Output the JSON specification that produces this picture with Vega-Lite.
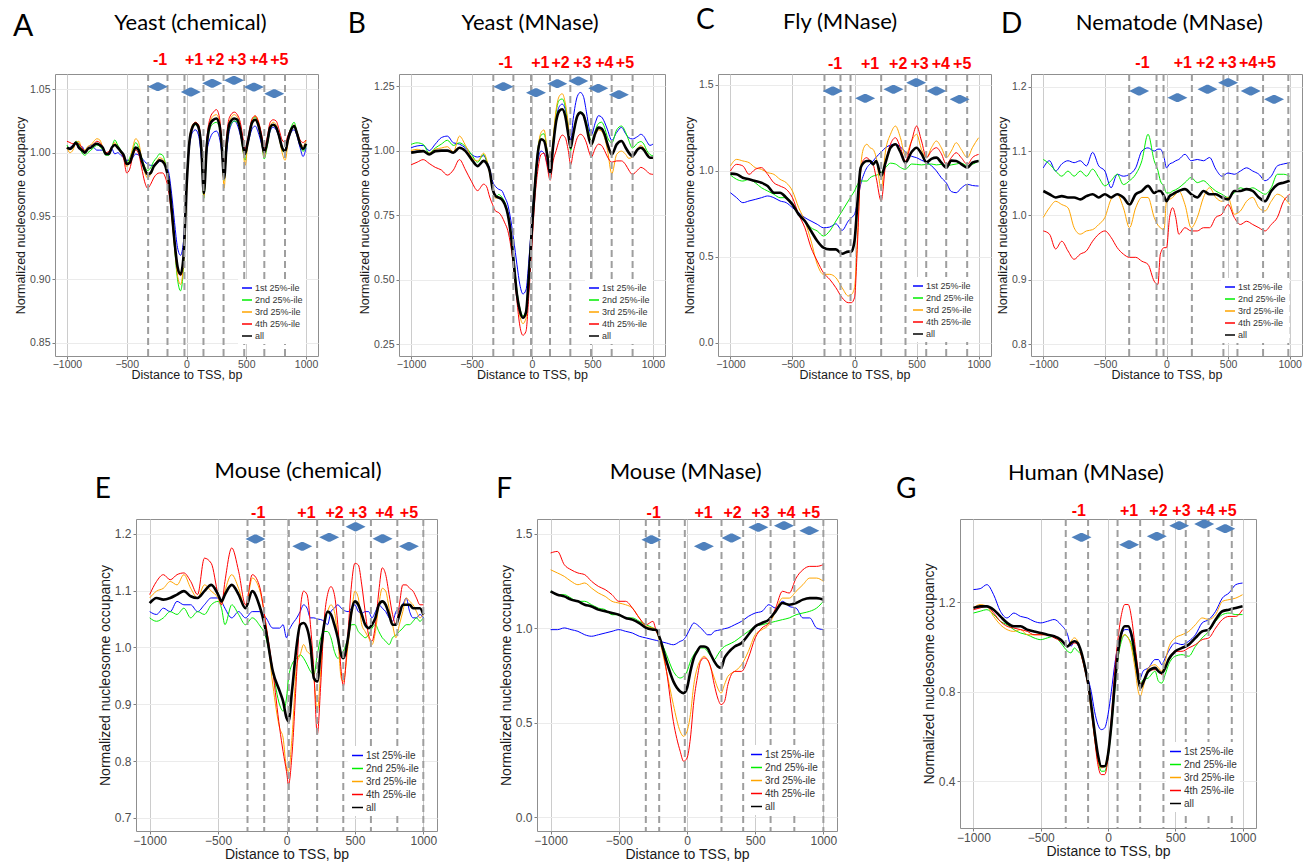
{
"$schema": "https://vega.github.io/schema/vega-lite/v6.json",
"padding": {"left": 12, "top": 6, "right": 2, "bottom": 2},
"spacing": 77,
"resolve": {"scale": {"color": "independent"}, "legend": {"color": "independent"}},
"config": {
  "font": "Liberation Sans",
  "view": {"stroke": "#8f8f8f", "strokeWidth": 1},
  "axis": {"labelFont": "Liberation Sans", "titleFont": "Liberation Sans", "labelColor": "#4d4d4d", "titleColor": "#1a1a1a", "titleFontWeight": "normal", "tickColor": "#7f7f7f", "tickSize": 3, "domain": false, "grid": true, "gridWidth": 1},
  "axisX": {"gridColor": "#cccccc", "labelPadding": 0, "titlePadding": -1, "format": "d"},
  "axisY": {"gridColor": "#ebebeb", "labelPadding": 2, "titlePadding": 2},
  "legend": {"fillColor": "#ffffff", "padding": 3, "symbolType": "stroke", "symbolStrokeWidth": 1.5, "labelFont": "Liberation Sans", "labelColor": "#333333", "labelOffset": 2, "rowPadding": 1}
},
"datasets": {
"A": [
{"x":-1000,"a":1.003,"b":1.006,"c":1.004,"d":1.009,"e":1.004},
{"x":-975,"a":1.004,"b":1.003,"c":1.000,"d":1.008,"e":1.003},
{"x":-950,"a":1.006,"b":1.004,"c":1.002,"d":1.007,"e":1.005},
{"x":-925,"a":1.008,"b":1.009,"c":1.008,"d":1.007,"e":1.008},
{"x":-900,"a":1.003,"b":1.007,"c":1.009,"d":1.007,"e":1.004},
{"x":-875,"a":1.005,"b":1.000,"c":1.003,"d":1.004,"e":1.002},
{"x":-850,"a":1.001,"b":0.998,"c":1.002,"d":1.001,"e":1.000},
{"x":-825,"a":1.004,"b":1.000,"c":1.005,"d":1.003,"e":1.003},
{"x":-800,"a":1.006,"b":1.002,"c":1.006,"d":1.004,"e":1.004},
{"x":-775,"a":1.004,"b":1.004,"c":1.009,"d":1.007,"e":1.006},
{"x":-750,"a":1.002,"b":1.006,"c":1.011,"d":1.009,"e":1.007},
{"x":-725,"a":1.002,"b":1.005,"c":1.010,"d":1.008,"e":1.006},
{"x":-700,"a":1.002,"b":1.002,"c":1.004,"d":1.004,"e":1.004},
{"x":-675,"a":0.999,"b":0.998,"c":0.999,"d":1.000,"e":0.999},
{"x":-650,"a":1.000,"b":0.998,"c":0.999,"d":1.001,"e":0.999},
{"x":-625,"a":1.003,"b":1.004,"c":1.004,"d":1.004,"e":1.004},
{"x":-600,"a":0.999,"b":1.010,"c":1.008,"d":1.006,"e":1.006},
{"x":-575,"a":1.000,"b":1.006,"c":1.004,"d":1.005,"e":1.004},
{"x":-550,"a":0.998,"b":1.002,"c":1.000,"d":1.001,"e":1.001},
{"x":-525,"a":0.996,"b":0.998,"c":0.997,"d":0.995,"e":0.998},
{"x":-500,"a":0.994,"b":0.992,"c":0.989,"d":0.984,"e":0.991},
{"x":-475,"a":0.994,"b":0.996,"c":0.994,"d":0.987,"e":0.992},
{"x":-450,"a":0.996,"b":1.002,"c":1.004,"d":0.997,"e":0.999},
{"x":-425,"a":0.999,"b":1.008,"c":1.011,"d":1.002,"e":1.004},
{"x":-400,"a":0.998,"b":1.004,"c":1.008,"d":0.999,"e":1.002},
{"x":-375,"a":0.996,"b":0.996,"c":0.995,"d":0.988,"e":0.994},
{"x":-350,"a":0.993,"b":0.989,"c":0.985,"d":0.977,"e":0.987},
{"x":-325,"a":0.991,"b":0.986,"c":0.980,"d":0.972,"e":0.983},
{"x":-300,"a":0.990,"b":0.988,"c":0.983,"d":0.975,"e":0.984},
{"x":-275,"a":0.990,"b":0.993,"c":0.989,"d":0.980,"e":0.989},
{"x":-250,"a":0.991,"b":0.996,"c":0.993,"d":0.983,"e":0.992},
{"x":-225,"a":0.993,"b":0.999,"c":0.996,"d":0.984,"e":0.994},
{"x":-200,"a":0.993,"b":0.998,"c":0.995,"d":0.984,"e":0.993},
{"x":-175,"a":0.990,"b":0.991,"c":0.990,"d":0.980,"e":0.989},
{"x":-150,"a":0.985,"b":0.978,"c":0.975,"d":0.970,"e":0.978},
{"x":-125,"a":0.968,"b":0.955,"c":0.950,"d":0.952,"e":0.956},
{"x":-100,"a":0.945,"b":0.925,"c":0.925,"d":0.928,"e":0.930},
{"x":-75,"a":0.925,"b":0.900,"c":0.903,"d":0.908,"e":0.910},
{"x":-50,"a":0.919,"b":0.891,"c":0.896,"d":0.903,"e":0.904},
{"x":-25,"a":0.930,"b":0.910,"c":0.912,"d":0.915,"e":0.918},
{"x":0,"a":0.975,"b":0.970,"c":0.968,"d":0.972,"e":0.972},
{"x":25,"a":1.005,"b":1.010,"c":1.010,"d":1.010,"e":1.009},
{"x":50,"a":1.016,"b":1.020,"c":1.022,"d":1.021,"e":1.020},
{"x":75,"a":1.018,"b":1.022,"c":1.024,"d":1.024,"e":1.023},
{"x":100,"a":1.014,"b":1.020,"c":1.022,"d":1.022,"e":1.020},
{"x":125,"a":0.995,"b":1.000,"c":1.002,"d":1.004,"e":1.002},
{"x":145,"a":0.970,"b":0.964,"c":0.965,"d":0.968,"e":0.968},
{"x":170,"a":1.000,"b":1.003,"c":1.008,"d":1.010,"e":1.006},
{"x":200,"a":1.012,"b":1.020,"c":1.025,"d":1.028,"e":1.023},
{"x":225,"a":1.016,"b":1.023,"c":1.029,"d":1.032,"e":1.026},
{"x":250,"a":1.017,"b":1.024,"c":1.030,"d":1.034,"e":1.027},
{"x":275,"a":1.012,"b":1.020,"c":1.025,"d":1.028,"e":1.022},
{"x":295,"a":1.000,"b":1.005,"c":1.005,"d":1.010,"e":1.005},
{"x":315,"a":0.982,"b":0.978,"c":0.972,"d":0.982,"e":0.980},
{"x":335,"a":1.000,"b":1.004,"c":1.006,"d":1.012,"e":1.006},
{"x":360,"a":1.018,"b":1.020,"c":1.025,"d":1.028,"e":1.023},
{"x":400,"a":1.025,"b":1.025,"c":1.030,"d":1.032,"e":1.027},
{"x":425,"a":1.022,"b":1.024,"c":1.028,"d":1.030,"e":1.026},
{"x":450,"a":1.014,"b":1.017,"c":1.020,"d":1.024,"e":1.018},
{"x":475,"a":1.005,"b":1.000,"c":1.000,"d":1.010,"e":1.004},
{"x":490,"a":1.000,"b":0.994,"c":0.990,"d":1.003,"e":0.999},
{"x":510,"a":1.006,"b":1.006,"c":1.004,"d":1.010,"e":1.007},
{"x":550,"a":1.019,"b":1.024,"c":1.026,"d":1.027,"e":1.024},
{"x":575,"a":1.021,"b":1.028,"c":1.029,"d":1.029,"e":1.026},
{"x":600,"a":1.016,"b":1.023,"c":1.025,"d":1.025,"e":1.022},
{"x":625,"a":1.008,"b":1.012,"c":1.014,"d":1.016,"e":1.012},
{"x":650,"a":1.000,"b":0.995,"c":0.996,"d":1.004,"e":1.000},
{"x":675,"a":1.008,"b":1.005,"c":1.008,"d":1.012,"e":1.008},
{"x":700,"a":1.017,"b":1.018,"c":1.021,"d":1.024,"e":1.020},
{"x":725,"a":1.020,"b":1.022,"c":1.024,"d":1.026,"e":1.022},
{"x":750,"a":1.018,"b":1.020,"c":1.022,"d":1.025,"e":1.020},
{"x":775,"a":1.012,"b":1.012,"c":1.012,"d":1.018,"e":1.013},
{"x":800,"a":1.004,"b":1.002,"c":1.000,"d":1.010,"e":1.004},
{"x":825,"a":1.001,"b":1.000,"c":0.994,"d":1.008,"e":1.001},
{"x":850,"a":1.009,"b":1.012,"c":1.008,"d":1.014,"e":1.011},
{"x":875,"a":1.016,"b":1.020,"c":1.018,"d":1.019,"e":1.018},
{"x":900,"a":1.018,"b":1.024,"c":1.022,"d":1.021,"e":1.021},
{"x":925,"a":1.013,"b":1.016,"c":1.016,"d":1.016,"e":1.015},
{"x":950,"a":1.004,"b":1.007,"c":1.008,"d":1.010,"e":1.007},
{"x":975,"a":0.997,"b":1.001,"c":1.005,"d":1.008,"e":1.003},
{"x":1000,"a":1.004,"b":1.005,"c":1.010,"d":1.010,"e":1.007}
],
"B": [
{"x":-1000,"a":1.011,"b":1.024,"c":1.000,"d":0.945,"e":0.992},
{"x":-950,"a":1.018,"b":1.030,"c":1.005,"d":0.955,"e":0.996},
{"x":-900,"a":1.020,"b":1.024,"c":0.998,"d":0.965,"e":0.998},
{"x":-850,"a":1.000,"b":0.990,"c":0.990,"d":0.950,"e":0.985},
{"x":-800,"a":1.025,"b":1.010,"c":1.005,"d":0.935,"e":0.998},
{"x":-750,"a":1.050,"b":1.025,"c":1.010,"d":0.925,"e":1.000},
{"x":-700,"a":1.056,"b":1.040,"c":1.015,"d":0.905,"e":1.000},
{"x":-650,"a":1.030,"b":1.020,"c":0.995,"d":0.925,"e":0.992},
{"x":-600,"a":1.025,"b":1.030,"c":1.056,"d":0.965,"e":1.011},
{"x":-550,"a":1.010,"b":1.015,"c":1.020,"d":0.925,"e":0.998},
{"x":-500,"a":0.985,"b":0.985,"c":0.975,"d":0.880,"e":0.966},
{"x":-450,"a":0.975,"b":0.955,"c":0.960,"d":0.845,"e":0.940},
{"x":-400,"a":0.980,"b":0.985,"c":0.990,"d":0.870,"e":0.960},
{"x":-375,"a":0.960,"b":0.960,"c":0.965,"d":0.860,"e":0.950},
{"x":-350,"a":0.930,"b":0.920,"c":0.910,"d":0.820,"e":0.921},
{"x":-325,"a":0.880,"b":0.850,"c":0.850,"d":0.790,"e":0.850},
{"x":-300,"a":0.860,"b":0.820,"c":0.815,"d":0.765,"e":0.824},
{"x":-275,"a":0.850,"b":0.830,"c":0.820,"d":0.760,"e":0.818},
{"x":-250,"a":0.845,"b":0.820,"c":0.810,"d":0.745,"e":0.811},
{"x":-225,"a":0.820,"b":0.800,"c":0.790,"d":0.720,"e":0.792},
{"x":-200,"a":0.790,"b":0.760,"c":0.750,"d":0.690,"e":0.753},
{"x":-175,"a":0.730,"b":0.690,"c":0.675,"d":0.630,"e":0.676},
{"x":-150,"a":0.650,"b":0.580,"c":0.560,"d":0.540,"e":0.560},
{"x":-125,"a":0.560,"b":0.460,"c":0.440,"d":0.420,"e":0.444},
{"x":-100,"a":0.480,"b":0.390,"c":0.360,"d":0.320,"e":0.379},
{"x":-75,"a":0.445,"b":0.360,"c":0.330,"d":0.285,"e":0.353},
{"x":-50,"a":0.460,"b":0.380,"c":0.350,"d":0.300,"e":0.373},
{"x":-25,"a":0.580,"b":0.540,"c":0.500,"d":0.450,"e":0.521},
{"x":0,"a":0.740,"b":0.720,"c":0.700,"d":0.640,"e":0.702},
{"x":25,"a":0.880,"b":0.890,"c":0.880,"d":0.820,"e":0.869},
{"x":50,"a":0.965,"b":1.010,"c":1.010,"d":0.930,"e":0.998},
{"x":75,"a":0.998,"b":1.060,"c":1.070,"d":0.985,"e":1.044},
{"x":100,"a":0.990,"b":1.065,"c":1.080,"d":0.990,"e":1.037},
{"x":125,"a":0.950,"b":1.000,"c":1.000,"d":0.940,"e":0.985},
{"x":150,"a":0.905,"b":0.915,"c":0.915,"d":0.885,"e":0.910},
{"x":175,"a":1.010,"b":1.040,"c":1.050,"d":0.960,"e":1.020},
{"x":200,"a":1.120,"b":1.150,"c":1.160,"d":1.000,"e":1.114},
{"x":225,"a":1.170,"b":1.195,"c":1.210,"d":1.040,"e":1.153},
{"x":250,"a":1.180,"b":1.200,"c":1.220,"d":1.060,"e":1.160},
{"x":275,"a":1.160,"b":1.170,"c":1.185,"d":1.050,"e":1.134},
{"x":300,"a":1.090,"b":1.090,"c":1.100,"d":1.000,"e":1.063},
{"x":320,"a":1.040,"b":1.000,"c":1.010,"d":0.945,"e":1.011},
{"x":340,"a":1.120,"b":1.060,"c":1.060,"d":0.990,"e":1.060},
{"x":375,"a":1.210,"b":1.130,"c":1.130,"d":1.050,"e":1.134},
{"x":400,"a":1.225,"b":1.150,"c":1.145,"d":1.063,"e":1.147},
{"x":425,"a":1.210,"b":1.140,"c":1.135,"d":1.055,"e":1.138},
{"x":450,"a":1.150,"b":1.110,"c":1.100,"d":1.030,"e":1.095},
{"x":475,"a":1.080,"b":1.060,"c":1.050,"d":0.990,"e":1.040},
{"x":490,"a":1.060,"b":1.030,"c":1.020,"d":0.975,"e":1.024},
{"x":525,"a":1.110,"b":1.080,"c":1.060,"d":1.010,"e":1.069},
{"x":550,"a":1.135,"b":1.105,"c":1.080,"d":1.025,"e":1.089},
{"x":575,"a":1.130,"b":1.110,"c":1.075,"d":1.020,"e":1.085},
{"x":600,"a":1.110,"b":1.090,"c":1.050,"d":1.000,"e":1.063},
{"x":625,"a":1.080,"b":1.050,"c":1.000,"d":0.975,"e":1.024},
{"x":660,"a":1.040,"b":1.030,"c":0.910,"d":0.955,"e":0.985},
{"x":700,"a":1.070,"b":1.080,"c":0.985,"d":0.960,"e":1.024},
{"x":740,"a":1.090,"b":1.095,"c":0.998,"d":0.960,"e":1.037},
{"x":775,"a":1.065,"b":1.070,"c":0.985,"d":0.945,"e":1.011},
{"x":800,"a":1.050,"b":1.040,"c":0.970,"d":0.925,"e":0.992},
{"x":830,"a":1.045,"b":1.010,"c":0.975,"d":0.908,"e":0.979},
{"x":875,"a":1.055,"b":1.030,"c":1.010,"d":0.925,"e":1.005},
{"x":900,"a":1.063,"b":1.035,"c":1.020,"d":0.935,"e":1.011},
{"x":925,"a":1.055,"b":1.025,"c":1.010,"d":0.930,"e":1.003},
{"x":950,"a":1.035,"b":1.000,"c":0.990,"d":0.920,"e":0.985},
{"x":975,"a":1.020,"b":0.985,"c":0.975,"d":0.910,"e":0.972},
{"x":1000,"a":1.025,"b":0.980,"c":0.970,"d":0.908,"e":0.972}
],
"C": [
{"x":-1000,"a":0.873,"b":0.976,"c":1.029,"d":0.999,"e":0.984},
{"x":-950,"a":0.844,"b":0.951,"c":1.067,"d":1.038,"e":0.980},
{"x":-900,"a":0.815,"b":0.941,"c":1.058,"d":1.029,"e":0.960},
{"x":-850,"a":0.825,"b":0.951,"c":1.048,"d":0.980,"e":0.951},
{"x":-800,"a":0.834,"b":0.931,"c":1.019,"d":1.009,"e":0.941},
{"x":-750,"a":0.844,"b":0.902,"c":1.009,"d":1.019,"e":0.931},
{"x":-700,"a":0.854,"b":0.883,"c":0.990,"d":0.980,"e":0.912},
{"x":-650,"a":0.844,"b":0.864,"c":0.980,"d":0.931,"e":0.873},
{"x":-600,"a":0.825,"b":0.844,"c":0.951,"d":0.912,"e":0.873},
{"x":-550,"a":0.815,"b":0.844,"c":0.931,"d":0.893,"e":0.844},
{"x":-500,"a":0.786,"b":0.805,"c":0.883,"d":0.844,"e":0.805},
{"x":-450,"a":0.757,"b":0.747,"c":0.786,"d":0.747,"e":0.747},
{"x":-400,"a":0.728,"b":0.708,"c":0.708,"d":0.669,"e":0.708},
{"x":-350,"a":0.708,"b":0.669,"c":0.592,"d":0.553,"e":0.650},
{"x":-300,"a":0.689,"b":0.650,"c":0.456,"d":0.475,"e":0.592},
{"x":-250,"a":0.669,"b":0.621,"c":0.398,"d":0.407,"e":0.553},
{"x":-200,"a":0.673,"b":0.650,"c":0.398,"d":0.369,"e":0.543},
{"x":-150,"a":0.692,"b":0.708,"c":0.378,"d":0.320,"e":0.543},
{"x":-100,"a":0.654,"b":0.766,"c":0.320,"d":0.262,"e":0.518},
{"x":-50,"a":0.708,"b":0.825,"c":0.272,"d":0.233,"e":0.530},
{"x":-25,"a":0.728,"b":0.855,"c":0.280,"d":0.233,"e":0.530},
{"x":0,"a":0.747,"b":0.883,"c":0.320,"d":0.262,"e":0.592},
{"x":25,"a":0.825,"b":0.922,"c":0.631,"d":0.592,"e":0.825},
{"x":50,"a":0.922,"b":0.941,"c":1.019,"d":0.999,"e":1.019},
{"x":75,"a":0.980,"b":0.941,"c":1.135,"d":1.067,"e":1.048},
{"x":100,"a":1.019,"b":0.941,"c":1.155,"d":1.077,"e":1.058},
{"x":125,"a":1.040,"b":0.960,"c":1.135,"d":1.058,"e":1.058},
{"x":150,"a":1.058,"b":0.970,"c":1.125,"d":1.038,"e":1.038},
{"x":175,"a":1.080,"b":0.975,"c":1.077,"d":0.960,"e":1.058},
{"x":215,"a":1.110,"b":0.990,"c":0.893,"d":0.825,"e":0.970},
{"x":250,"a":1.135,"b":1.019,"c":1.116,"d":1.038,"e":1.048},
{"x":290,"a":1.150,"b":1.045,"c":1.213,"d":1.155,"e":1.135},
{"x":330,"a":1.155,"b":1.040,"c":1.261,"d":1.193,"e":1.155},
{"x":370,"a":1.140,"b":1.020,"c":1.193,"d":1.135,"e":1.110},
{"x":410,"a":1.110,"b":1.009,"c":1.087,"d":1.058,"e":1.048},
{"x":460,"a":1.085,"b":1.040,"c":1.174,"d":1.174,"e":1.110},
{"x":500,"a":1.077,"b":1.038,"c":1.213,"d":1.261,"e":1.135},
{"x":540,"a":1.062,"b":1.035,"c":1.125,"d":1.174,"e":1.100},
{"x":580,"a":1.050,"b":1.038,"c":1.077,"d":1.077,"e":1.050},
{"x":620,"a":1.030,"b":1.040,"c":1.135,"d":1.116,"e":1.070},
{"x":660,"a":1.000,"b":1.035,"c":1.174,"d":1.135,"e":1.077},
{"x":700,"a":0.960,"b":1.038,"c":1.135,"d":1.100,"e":1.048},
{"x":740,"a":0.930,"b":1.030,"c":1.077,"d":1.038,"e":1.019},
{"x":780,"a":0.880,"b":1.035,"c":1.116,"d":1.077,"e":1.060},
{"x":820,"a":0.873,"b":1.040,"c":1.164,"d":1.106,"e":1.058},
{"x":860,"a":0.900,"b":1.045,"c":1.125,"d":1.077,"e":1.040},
{"x":910,"a":0.922,"b":1.030,"c":1.077,"d":1.038,"e":1.019},
{"x":950,"a":0.915,"b":1.038,"c":1.135,"d":1.077,"e":1.048},
{"x":1000,"a":0.912,"b":1.058,"c":1.193,"d":1.096,"e":1.058}
],
"D": [
{"x":-1000,"a":1.074,"b":1.087,"c":0.997,"d":0.976,"e":1.038},
{"x":-950,"a":1.085,"b":1.080,"c":1.012,"d":0.971,"e":1.033},
{"x":-900,"a":1.069,"b":1.069,"c":1.022,"d":0.948,"e":1.028},
{"x":-850,"a":1.080,"b":1.061,"c":1.017,"d":0.960,"e":1.030},
{"x":-800,"a":1.085,"b":1.069,"c":1.012,"d":0.945,"e":1.028},
{"x":-750,"a":1.082,"b":1.061,"c":0.981,"d":0.932,"e":1.028},
{"x":-700,"a":1.085,"b":1.069,"c":0.971,"d":0.940,"e":1.025},
{"x":-650,"a":1.077,"b":1.061,"c":0.976,"d":0.945,"e":1.030},
{"x":-600,"a":1.098,"b":1.072,"c":0.978,"d":0.960,"e":1.033},
{"x":-550,"a":1.077,"b":1.059,"c":0.986,"d":0.971,"e":1.028},
{"x":-500,"a":1.069,"b":1.046,"c":0.997,"d":0.976,"e":1.033},
{"x":-450,"a":1.043,"b":1.054,"c":1.025,"d":0.966,"e":1.028},
{"x":-400,"a":1.064,"b":1.064,"c":1.033,"d":0.950,"e":1.033},
{"x":-350,"a":1.061,"b":1.048,"c":1.012,"d":0.940,"e":1.028},
{"x":-300,"a":1.064,"b":1.054,"c":0.981,"d":0.935,"e":1.017},
{"x":-250,"a":1.074,"b":1.064,"c":1.012,"d":0.935,"e":1.033},
{"x":-200,"a":1.100,"b":1.085,"c":1.028,"d":0.929,"e":1.038},
{"x":-150,"a":1.105,"b":1.126,"c":1.028,"d":0.924,"e":1.046},
{"x":-100,"a":1.100,"b":1.085,"c":0.997,"d":0.898,"e":1.035},
{"x":-70,"a":1.103,"b":1.070,"c":0.985,"d":0.893,"e":1.038},
{"x":-50,"a":1.103,"b":1.054,"c":0.981,"d":0.940,"e":1.038},
{"x":-20,"a":1.090,"b":1.045,"c":0.978,"d":0.950,"e":1.030},
{"x":0,"a":1.074,"b":1.035,"c":1.022,"d":0.950,"e":1.022},
{"x":25,"a":1.080,"b":1.035,"c":1.025,"d":0.997,"e":1.030},
{"x":50,"a":1.082,"b":1.038,"c":1.028,"d":1.012,"e":1.033},
{"x":75,"a":1.085,"b":1.040,"c":1.033,"d":0.997,"e":1.036},
{"x":100,"a":1.087,"b":1.043,"c":1.038,"d":0.971,"e":1.038},
{"x":150,"a":1.095,"b":1.051,"c":1.017,"d":0.981,"e":1.041},
{"x":200,"a":1.085,"b":1.059,"c":0.981,"d":0.976,"e":1.033},
{"x":250,"a":1.087,"b":1.051,"c":0.997,"d":0.976,"e":1.028},
{"x":300,"a":1.085,"b":1.054,"c":1.028,"d":0.981,"e":1.038},
{"x":350,"a":1.090,"b":1.046,"c":1.043,"d":0.981,"e":1.033},
{"x":400,"a":1.072,"b":1.038,"c":1.028,"d":0.997,"e":1.033},
{"x":450,"a":1.061,"b":1.033,"c":1.022,"d":1.002,"e":1.028},
{"x":500,"a":1.066,"b":1.028,"c":1.028,"d":1.017,"e":1.025},
{"x":550,"a":1.064,"b":1.035,"c":1.002,"d":0.997,"e":1.038},
{"x":600,"a":1.069,"b":1.043,"c":1.007,"d":0.986,"e":1.038},
{"x":650,"a":1.074,"b":1.040,"c":1.022,"d":0.991,"e":1.041},
{"x":700,"a":1.069,"b":1.043,"c":1.028,"d":0.986,"e":1.038},
{"x":750,"a":1.064,"b":1.038,"c":1.012,"d":0.981,"e":1.028},
{"x":800,"a":1.054,"b":1.033,"c":1.007,"d":0.976,"e":1.022},
{"x":850,"a":1.061,"b":1.043,"c":1.022,"d":0.986,"e":1.038},
{"x":900,"a":1.077,"b":1.064,"c":1.033,"d":0.997,"e":1.048},
{"x":950,"a":1.080,"b":1.064,"c":1.028,"d":1.022,"e":1.051},
{"x":1000,"a":1.082,"b":1.061,"c":1.017,"d":1.033,"e":1.054}
],
"E": [
{"x":-1000,"a":1.063,"b":1.052,"c":1.087,"d":1.093,"e":1.078},
{"x":-950,"a":1.058,"b":1.046,"c":1.099,"d":1.116,"e":1.087},
{"x":-900,"a":1.069,"b":1.052,"c":1.104,"d":1.128,"e":1.084},
{"x":-850,"a":1.063,"b":1.063,"c":1.116,"d":1.119,"e":1.087},
{"x":-800,"a":1.081,"b":1.058,"c":1.110,"d":1.128,"e":1.093},
{"x":-750,"a":1.075,"b":1.069,"c":1.128,"d":1.131,"e":1.099},
{"x":-700,"a":1.075,"b":1.052,"c":1.104,"d":1.116,"e":1.090},
{"x":-650,"a":1.063,"b":1.063,"c":1.087,"d":1.093,"e":1.087},
{"x":-600,"a":1.075,"b":1.058,"c":1.110,"d":1.157,"e":1.099},
{"x":-550,"a":1.087,"b":1.075,"c":1.099,"d":1.148,"e":1.110},
{"x":-500,"a":1.087,"b":1.081,"c":1.087,"d":1.093,"e":1.093},
{"x":-475,"a":1.081,"b":1.069,"c":1.075,"d":1.075,"e":1.081},
{"x":-450,"a":1.069,"b":1.040,"c":1.099,"d":1.116,"e":1.093},
{"x":-400,"a":1.052,"b":1.075,"c":1.128,"d":1.175,"e":1.110},
{"x":-350,"a":1.063,"b":1.058,"c":1.104,"d":1.134,"e":1.093},
{"x":-300,"a":1.052,"b":1.040,"c":1.069,"d":1.075,"e":1.069},
{"x":-250,"a":1.063,"b":1.052,"c":1.122,"d":1.128,"e":1.099},
{"x":-200,"a":1.063,"b":1.040,"c":1.104,"d":1.110,"e":1.075},
{"x":-150,"a":1.052,"b":1.017,"c":1.040,"d":1.040,"e":1.028},
{"x":-100,"a":1.034,"b":0.958,"c":0.934,"d":0.958,"e":0.958},
{"x":-50,"a":1.034,"b":0.899,"c":0.858,"d":0.858,"e":0.923},
{"x":-25,"a":1.040,"b":0.888,"c":0.841,"d":0.817,"e":0.905},
{"x":0,"a":1.017,"b":0.911,"c":0.788,"d":0.782,"e":0.876},
{"x":15,"a":1.028,"b":0.946,"c":0.782,"d":0.759,"e":0.870},
{"x":40,"a":1.040,"b":0.970,"c":0.841,"d":0.811,"e":0.923},
{"x":75,"a":1.052,"b":0.981,"c":0.970,"d":0.958,"e":1.005},
{"x":100,"a":1.063,"b":0.987,"c":0.987,"d":1.063,"e":1.040},
{"x":125,"a":1.075,"b":0.981,"c":1.005,"d":1.099,"e":1.043},
{"x":150,"a":1.069,"b":0.970,"c":0.993,"d":1.093,"e":1.034},
{"x":175,"a":1.052,"b":0.958,"c":0.987,"d":1.040,"e":1.005},
{"x":200,"a":1.052,"b":0.952,"c":0.946,"d":0.958,"e":0.946},
{"x":225,"a":1.050,"b":0.987,"c":0.888,"d":0.847,"e":0.940},
{"x":250,"a":1.049,"b":1.017,"c":0.958,"d":0.934,"e":0.993},
{"x":275,"a":1.046,"b":1.028,"c":1.040,"d":1.046,"e":1.040},
{"x":300,"a":1.040,"b":1.028,"c":1.063,"d":1.093,"e":1.063},
{"x":325,"a":1.063,"b":1.017,"c":1.075,"d":1.107,"e":1.058},
{"x":350,"a":1.069,"b":0.993,"c":1.063,"d":1.093,"e":1.040},
{"x":375,"a":1.075,"b":0.981,"c":1.017,"d":1.040,"e":1.017},
{"x":400,"a":1.069,"b":0.987,"c":0.946,"d":0.958,"e":0.987},
{"x":415,"a":1.066,"b":0.993,"c":0.940,"d":0.932,"e":0.981},
{"x":450,"a":1.063,"b":1.017,"c":1.005,"d":1.028,"e":1.017},
{"x":475,"a":1.069,"b":1.040,"c":1.058,"d":1.110,"e":1.063},
{"x":500,"a":1.075,"b":1.040,"c":1.099,"d":1.148,"e":1.081},
{"x":525,"a":1.063,"b":1.028,"c":1.087,"d":1.145,"e":1.075},
{"x":550,"a":1.060,"b":1.022,"c":1.040,"d":1.110,"e":1.058},
{"x":575,"a":1.063,"b":1.017,"c":1.028,"d":1.063,"e":1.040},
{"x":600,"a":1.063,"b":1.022,"c":1.017,"d":1.022,"e":1.034},
{"x":625,"a":1.052,"b":1.034,"c":1.005,"d":1.011,"e":1.040},
{"x":650,"a":1.063,"b":1.040,"c":1.028,"d":1.040,"e":1.052},
{"x":675,"a":1.075,"b":1.028,"c":1.075,"d":1.099,"e":1.075},
{"x":700,"a":1.069,"b":1.017,"c":1.104,"d":1.140,"e":1.081},
{"x":725,"a":1.063,"b":1.011,"c":1.099,"d":1.128,"e":1.075},
{"x":750,"a":1.052,"b":1.005,"c":1.069,"d":1.093,"e":1.058},
{"x":775,"a":1.046,"b":1.017,"c":1.040,"d":1.058,"e":1.040},
{"x":800,"a":1.063,"b":1.022,"c":1.017,"d":1.040,"e":1.040},
{"x":825,"a":1.069,"b":1.028,"c":1.040,"d":1.075,"e":1.058},
{"x":850,"a":1.075,"b":1.034,"c":1.063,"d":1.110,"e":1.075},
{"x":875,"a":1.087,"b":1.040,"c":1.087,"d":1.110,"e":1.075},
{"x":900,"a":1.063,"b":1.040,"c":1.081,"d":1.104,"e":1.075},
{"x":925,"a":1.052,"b":1.046,"c":1.075,"d":1.099,"e":1.069},
{"x":950,"a":1.052,"b":1.052,"c":1.063,"d":1.087,"e":1.069},
{"x":975,"a":1.058,"b":1.046,"c":1.052,"d":1.075,"e":1.069},
{"x":1000,"a":1.052,"b":1.052,"c":1.058,"d":1.075,"e":1.058}
],
"F": [
{"x":-1000,"a":0.992,"b":1.195,"c":1.309,"d":1.398,"e":1.195},
{"x":-950,"a":0.992,"b":1.177,"c":1.292,"d":1.406,"e":1.177},
{"x":-900,"a":1.001,"b":1.177,"c":1.274,"d":1.336,"e":1.168},
{"x":-850,"a":0.992,"b":1.159,"c":1.248,"d":1.309,"e":1.151},
{"x":-800,"a":0.983,"b":1.142,"c":1.230,"d":1.292,"e":1.142},
{"x":-750,"a":0.965,"b":1.142,"c":1.239,"d":1.283,"e":1.124},
{"x":-700,"a":0.957,"b":1.124,"c":1.212,"d":1.248,"e":1.115},
{"x":-650,"a":0.965,"b":1.106,"c":1.186,"d":1.221,"e":1.098},
{"x":-600,"a":0.974,"b":1.098,"c":1.168,"d":1.204,"e":1.089},
{"x":-550,"a":0.983,"b":1.071,"c":1.142,"d":1.177,"e":1.080},
{"x":-500,"a":0.992,"b":1.071,"c":1.133,"d":1.142,"e":1.071},
{"x":-450,"a":0.983,"b":1.054,"c":1.124,"d":1.142,"e":1.054},
{"x":-400,"a":0.974,"b":1.054,"c":1.106,"d":1.106,"e":1.045},
{"x":-350,"a":0.957,"b":1.036,"c":1.054,"d":1.054,"e":1.027},
{"x":-300,"a":0.948,"b":1.018,"c":1.009,"d":1.018,"e":1.001},
{"x":-250,"a":0.939,"b":1.001,"c":1.001,"d":1.036,"e":0.992},
{"x":-225,"a":0.935,"b":0.990,"c":0.983,"d":0.983,"e":0.990},
{"x":-200,"a":0.930,"b":0.948,"c":0.930,"d":0.948,"e":0.948},
{"x":-150,"a":0.921,"b":0.859,"c":0.771,"d":0.771,"e":0.824},
{"x":-100,"a":0.912,"b":0.771,"c":0.595,"d":0.506,"e":0.718},
{"x":-50,"a":0.930,"b":0.736,"c":0.453,"d":0.348,"e":0.665},
{"x":-25,"a":0.939,"b":0.745,"c":0.427,"d":0.295,"e":0.656},
{"x":0,"a":0.965,"b":0.771,"c":0.453,"d":0.312,"e":0.683},
{"x":25,"a":1.001,"b":0.824,"c":0.542,"d":0.418,"e":0.771},
{"x":50,"a":1.027,"b":0.859,"c":0.701,"d":0.612,"e":0.842},
{"x":75,"a":1.018,"b":0.886,"c":0.789,"d":0.736,"e":0.877},
{"x":100,"a":1.001,"b":0.895,"c":0.833,"d":0.824,"e":0.903},
{"x":125,"a":0.983,"b":0.895,"c":0.851,"d":0.842,"e":0.903},
{"x":150,"a":0.965,"b":0.877,"c":0.833,"d":0.833,"e":0.895},
{"x":175,"a":0.965,"b":0.851,"c":0.789,"d":0.789,"e":0.859},
{"x":200,"a":0.983,"b":0.833,"c":0.736,"d":0.701,"e":0.824},
{"x":225,"a":0.988,"b":0.859,"c":0.683,"d":0.630,"e":0.798},
{"x":250,"a":0.992,"b":0.886,"c":0.656,"d":0.595,"e":0.789},
{"x":275,"a":0.997,"b":0.903,"c":0.701,"d":0.612,"e":0.842},
{"x":300,"a":1.001,"b":0.912,"c":0.745,"d":0.701,"e":0.868},
{"x":350,"a":1.018,"b":0.930,"c":0.771,"d":0.771,"e":0.903},
{"x":400,"a":1.036,"b":0.957,"c":0.806,"d":0.771,"e":0.921},
{"x":450,"a":1.062,"b":0.983,"c":0.877,"d":0.842,"e":0.965},
{"x":500,"a":1.080,"b":1.009,"c":0.965,"d":0.948,"e":1.009},
{"x":550,"a":1.089,"b":1.018,"c":0.992,"d":1.001,"e":1.027},
{"x":600,"a":1.124,"b":1.027,"c":1.018,"d":1.027,"e":1.045},
{"x":650,"a":1.106,"b":1.036,"c":1.089,"d":1.106,"e":1.089},
{"x":700,"a":1.142,"b":1.045,"c":1.159,"d":1.195,"e":1.133},
{"x":750,"a":1.115,"b":1.054,"c":1.159,"d":1.186,"e":1.124},
{"x":800,"a":1.106,"b":1.071,"c":1.195,"d":1.265,"e":1.133},
{"x":850,"a":1.054,"b":1.080,"c":1.230,"d":1.309,"e":1.151},
{"x":900,"a":1.054,"b":1.089,"c":1.265,"d":1.327,"e":1.159},
{"x":950,"a":1.001,"b":1.106,"c":1.265,"d":1.327,"e":1.159},
{"x":1000,"a":0.992,"b":1.142,"c":1.248,"d":1.336,"e":1.151}
],
"G": [
{"x":-1000,"a":1.257,"b":1.152,"c":1.175,"d":1.167,"e":1.175},
{"x":-950,"a":1.261,"b":1.160,"c":1.190,"d":1.175,"e":1.182},
{"x":-900,"a":1.279,"b":1.167,"c":1.182,"d":1.182,"e":1.182},
{"x":-850,"a":1.234,"b":1.145,"c":1.137,"d":1.152,"e":1.167},
{"x":-800,"a":1.160,"b":1.115,"c":1.100,"d":1.115,"e":1.137},
{"x":-750,"a":1.130,"b":1.100,"c":1.078,"d":1.093,"e":1.108},
{"x":-700,"a":1.152,"b":1.078,"c":1.070,"d":1.085,"e":1.093},
{"x":-650,"a":1.137,"b":1.063,"c":1.078,"d":1.078,"e":1.093},
{"x":-600,"a":1.130,"b":1.055,"c":1.055,"d":1.070,"e":1.078},
{"x":-550,"a":1.115,"b":1.041,"c":1.055,"d":1.055,"e":1.070},
{"x":-500,"a":1.108,"b":1.033,"c":1.055,"d":1.055,"e":1.063},
{"x":-450,"a":1.115,"b":1.041,"c":1.055,"d":1.055,"e":1.055},
{"x":-400,"a":1.123,"b":1.048,"c":1.048,"d":1.041,"e":1.048},
{"x":-350,"a":1.100,"b":1.018,"c":1.033,"d":1.026,"e":1.033},
{"x":-300,"a":1.055,"b":0.981,"c":1.003,"d":1.003,"e":1.003},
{"x":-275,"a":1.003,"b":0.974,"c":1.026,"d":1.011,"e":1.018},
{"x":-250,"a":1.026,"b":0.996,"c":1.041,"d":1.018,"e":1.026},
{"x":-225,"a":1.011,"b":0.981,"c":1.026,"d":1.011,"e":1.018},
{"x":-200,"a":0.974,"b":0.966,"c":0.966,"d":0.966,"e":0.981},
{"x":-175,"a":0.921,"b":0.921,"c":0.907,"d":0.907,"e":0.921},
{"x":-150,"a":0.862,"b":0.847,"c":0.832,"d":0.832,"e":0.847},
{"x":-125,"a":0.802,"b":0.728,"c":0.713,"d":0.728,"e":0.743},
{"x":-100,"a":0.713,"b":0.608,"c":0.594,"d":0.594,"e":0.623},
{"x":-75,"a":0.653,"b":0.504,"c":0.489,"d":0.474,"e":0.519},
{"x":-50,"a":0.631,"b":0.445,"c":0.460,"d":0.430,"e":0.467},
{"x":-25,"a":0.638,"b":0.445,"c":0.467,"d":0.430,"e":0.467},
{"x":0,"a":0.698,"b":0.504,"c":0.534,"d":0.504,"e":0.519},
{"x":25,"a":0.802,"b":0.638,"c":0.668,"d":0.683,"e":0.653},
{"x":50,"a":0.921,"b":0.802,"c":0.832,"d":0.892,"e":0.832},
{"x":75,"a":1.011,"b":0.951,"c":0.966,"d":1.041,"e":0.981},
{"x":100,"a":1.055,"b":1.026,"c":1.041,"d":1.145,"e":1.063},
{"x":125,"a":1.078,"b":1.055,"c":1.055,"d":1.190,"e":1.093},
{"x":150,"a":1.078,"b":1.041,"c":1.041,"d":1.190,"e":1.093},
{"x":175,"a":1.041,"b":1.011,"c":0.996,"d":1.130,"e":1.055},
{"x":200,"a":0.966,"b":0.936,"c":0.907,"d":1.011,"e":0.966},
{"x":225,"a":0.892,"b":0.862,"c":0.802,"d":0.892,"e":0.862},
{"x":240,"a":0.862,"b":0.832,"c":0.780,"d":0.832,"e":0.817},
{"x":260,"a":0.892,"b":0.854,"c":0.817,"d":0.847,"e":0.839},
{"x":300,"a":0.907,"b":0.862,"c":0.907,"d":0.892,"e":0.892},
{"x":350,"a":0.944,"b":0.892,"c":0.921,"d":0.899,"e":0.907},
{"x":375,"a":0.944,"b":0.847,"c":0.907,"d":0.892,"e":0.892},
{"x":400,"a":0.921,"b":0.839,"c":0.892,"d":0.877,"e":0.884},
{"x":425,"a":0.951,"b":0.877,"c":0.936,"d":0.907,"e":0.907},
{"x":450,"a":0.981,"b":0.921,"c":0.996,"d":0.944,"e":0.944},
{"x":500,"a":1.018,"b":0.959,"c":1.041,"d":0.981,"e":0.981},
{"x":550,"a":1.011,"b":0.966,"c":1.055,"d":0.981,"e":0.996},
{"x":600,"a":1.026,"b":0.959,"c":1.070,"d":0.996,"e":1.011},
{"x":650,"a":1.055,"b":1.003,"c":1.100,"d":1.011,"e":1.041},
{"x":700,"a":1.108,"b":1.041,"c":1.130,"d":1.033,"e":1.070},
{"x":750,"a":1.123,"b":1.070,"c":1.123,"d":1.041,"e":1.078},
{"x":800,"a":1.160,"b":1.115,"c":1.145,"d":1.085,"e":1.123},
{"x":850,"a":1.219,"b":1.145,"c":1.204,"d":1.123,"e":1.160},
{"x":900,"a":1.242,"b":1.152,"c":1.212,"d":1.137,"e":1.167},
{"x":950,"a":1.279,"b":1.145,"c":1.219,"d":1.137,"e":1.175},
{"x":1000,"a":1.286,"b":1.145,"c":1.234,"d":1.167,"e":1.182}
]
},
"vconcat": [
{
"hconcat": [
{
"width": 263, "height": 282,
"layer": [
{"data": {"name": "A"}, "transform": [{"fold": ["a","b","c","d","e"], "as": ["s","y"]}],
 "mark": {"type": "line", "interpolate": "monotone"},
 "encoding": {
  "x": {"field": "x", "type": "quantitative", "scale": {"domain": [-1100,1100], "nice": false, "zero": false}, "axis": {"values": [-1000,-500,0,500,1000], "format": "d", "title": "Distance to TSS, bp", "labelFontSize": 10.5, "titleFontSize": 12.5}},
  "y": {"field": "y", "type": "quantitative", "scale": {"domain": [0.8395,1.0621], "nice": false, "zero": false}, "axis": {"values": [0.85,0.9,0.95,1,1.05], "format": ".2f", "title": "Normalized nucleosome occupancy", "labelFontSize": 10.5, "titleFontSize": 12.5}},
  "color": {"field": "s", "type": "nominal", "scale": {"domain": ["a","b","c","d","e"], "range": ["#0000ff","#00ee00","#ffa500","#ff0000","#000000"]}, "legend": {"title": null, "orient": "bottom-right", "offset": 12, "labelFontSize": 9, "symbolSize": 100, "labelExpr": "datum.label == 'a' ? '1st 25%-ile' : datum.label == 'b' ? '2nd 25%-ile' : datum.label == 'c' ? '3rd 25%-ile' : datum.label == 'd' ? '4th 25%-ile' : 'all'"}},
  "strokeWidth": {"condition": {"test": "datum.s === 'e'", "value": 2.6}, "value": 1}
 }},
{"data": {"values": [{"x":-321},{"x":-159},{"x":-17},{"x":142},{"x":310},{"x":483},{"x":651},{"x":824}]},
 "mark": {"type": "rule", "color": "#9e9e9e", "strokeWidth": 2, "strokeDash": [7,4]},
 "encoding": {"x": {"field": "x", "type": "quantitative"}}},
{"data": {"values": [{"x":-240,"y":1.0521},{"x":36,"y":1.0479},{"x":215,"y":1.0547},{"x":397,"y":1.0571},{"x":564,"y":1.0518},{"x":734,"y":1.0466}]},
 "mark": {"type": "point", "shape": "M-1,0L-0.1,-0.44L0.1,-0.44L1,0L0.1,0.44L-0.1,0.44Z", "filled": true, "color": "#4f81bd", "opacity": 1, "size": 400},
 "encoding": {"x": {"field": "x", "type": "quantitative"}, "y": {"field": "y", "type": "quantitative"}}},
{"data": {"values": [{"x":-221,"t":"-1"},{"x":64,"t":"+1"},{"x":240,"t":"+2"},{"x":424,"t":"+3"},{"x":603,"t":"+4"},{"x":776,"t":"+5"}]},
 "mark": {"type": "text", "color": "#ff0000", "font": "Liberation Sans", "fontWeight": "bold", "fontSize": 16, "baseline": "alphabetic"},
 "encoding": {"x": {"field": "x", "type": "quantitative"}, "y": {"datum": 1.0692}, "text": {"field": "t"}}},
{"data": {"values": [{"t": "Yeast (chemical)"}]},
 "mark": {"type": "text", "font": "Lato", "fontSize": 22, "color": "#000000", "baseline": "alphabetic"},
 "encoding": {"x": {"datum": 33}, "y": {"datum": 1.0966}, "text": {"field": "t"}}},
{"data": {"values": [{"t": "A"}]},
 "mark": {"type": "text", "font": "Lato", "fontSize": 30, "color": "#000000", "align": "left", "baseline": "alphabetic"},
 "encoding": {"x": {"datum": -1451}, "y": {"datum": 1.0921}, "text": {"field": "t"}}}
]
},
{"width": 81, "height": 10, "data": {"values": []}, "mark": "point", "view": {"stroke": null}},
{
"width": 266, "height": 282,
"layer": [
{"data": {"name": "B"}, "transform": [{"fold": ["a","b","c","d","e"], "as": ["s","y"]}],
 "mark": {"type": "line", "interpolate": "monotone"},
 "encoding": {
  "x": {"field": "x", "type": "quantitative", "scale": {"domain": [-1100,1100], "nice": false, "zero": false}, "axis": {"values": [-1000,-500,0,500,1000], "format": "d", "title": "Distance to TSS, bp", "labelFontSize": 10.5, "titleFontSize": 12.5}},
  "y": {"field": "y", "type": "quantitative", "scale": {"domain": [0.2047,1.2965], "nice": false, "zero": false}, "axis": {"values": [0.25,0.5,0.75,1,1.25], "format": ".2f", "title": "Normalized nucleosome occupancy", "labelFontSize": 10.5, "titleFontSize": 12.5}},
  "color": {"field": "s", "type": "nominal", "scale": {"domain": ["a","b","c","d","e"], "range": ["#0000ff","#00ee00","#ffa500","#ff0000","#000000"]}, "legend": {"title": null, "orient": "bottom-right", "offset": 12, "labelFontSize": 9, "symbolSize": 100, "labelExpr": "datum.label == 'a' ? '1st 25%-ile' : datum.label == 'b' ? '2nd 25%-ile' : datum.label == 'c' ? '3rd 25%-ile' : datum.label == 'd' ? '4th 25%-ile' : 'all'"}},
  "strokeWidth": {"condition": {"test": "datum.s === 'e'", "value": 2.6}, "value": 1}
 }},
{"data": {"values": [{"x":-320},{"x":-154},{"x":-8},{"x":149},{"x":317},{"x":488},{"x":659},{"x":832}]},
 "mark": {"type": "rule", "color": "#9e9e9e", "strokeWidth": 2, "strokeDash": [7,4]},
 "encoding": {"x": {"field": "x", "type": "quantitative"}}},
{"data": {"values": [{"x":-237,"y":1.2473},{"x":33,"y":1.2241},{"x":209,"y":1.2589},{"x":383,"y":1.2694},{"x":548,"y":1.2411},{"x":719,"y":1.2163}]},
 "mark": {"type": "point", "shape": "M-1,0L-0.1,-0.44L0.1,-0.44L1,0L0.1,0.44L-0.1,0.44Z", "filled": true, "color": "#4f81bd", "opacity": 1, "size": 400},
 "encoding": {"x": {"field": "x", "type": "quantitative"}, "y": {"field": "y", "type": "quantitative"}}},
{"data": {"values": [{"x":-218,"t":"-1"},{"x":69,"t":"+1"},{"x":237,"t":"+2"},{"x":416,"t":"+3"},{"x":598,"t":"+4"},{"x":769,"t":"+5"}]},
 "mark": {"type": "text", "color": "#ff0000", "font": "Liberation Sans", "fontWeight": "bold", "fontSize": 16, "baseline": "alphabetic"},
 "encoding": {"x": {"field": "x", "type": "quantitative"}, "y": {"datum": 1.3197}, "text": {"field": "t"}}},
{"data": {"values": [{"t": "Yeast (MNase)"}]},
 "mark": {"type": "text", "font": "Lato", "fontSize": 22, "color": "#000000", "baseline": "alphabetic"},
 "encoding": {"x": {"datum": -15}, "y": {"datum": 1.4657}, "text": {"field": "t"}}},
{"data": {"values": [{"t": "B"}]},
 "mark": {"type": "text", "font": "Lato", "fontSize": 28, "color": "#000000", "align": "left", "baseline": "alphabetic"},
 "encoding": {"x": {"datum": -1524}, "y": {"datum": 1.4564}, "text": {"field": "t"}}}
]
},
{"width": 53, "height": 10, "data": {"values": []}, "mark": "point", "view": {"stroke": null}},
{
"width": 273, "height": 282,
"layer": [
{"data": {"name": "C"}, "transform": [{"fold": ["a","b","c","d","e"], "as": ["s","y"]}],
 "mark": {"type": "line", "interpolate": "monotone"},
 "encoding": {
  "x": {"field": "x", "type": "quantitative", "scale": {"domain": [-1100,1100], "nice": false, "zero": false}, "axis": {"values": [-1000,-500,0,500,1000], "format": "d", "title": "Distance to TSS, bp", "labelFontSize": 10.5, "titleFontSize": 12.5}},
  "y": {"field": "y", "type": "quantitative", "scale": {"domain": [-0.0774,1.564], "nice": false, "zero": false}, "axis": {"values": [0,0.5,1,1.5], "format": ".1f", "title": "Normalized nucleosome occupancy", "labelFontSize": 10.5, "titleFontSize": 12.5}},
  "color": {"field": "s", "type": "nominal", "scale": {"domain": ["a","b","c","d","e"], "range": ["#0000ff","#00ee00","#ffa500","#ff0000","#000000"]}, "legend": {"title": null, "orient": "bottom-right", "offset": 14, "labelFontSize": 9, "symbolSize": 100, "labelExpr": "datum.label == 'a' ? '1st 25%-ile' : datum.label == 'b' ? '2nd 25%-ile' : datum.label == 'c' ? '3rd 25%-ile' : datum.label == 'd' ? '4th 25%-ile' : 'all'"}},
  "strokeWidth": {"condition": {"test": "datum.s === 'e'", "value": 2.6}, "value": 1}
 }},
{"data": {"values": [{"x":-242},{"x":-113},{"x":-32},{"x":215},{"x":411},{"x":578},{"x":739},{"x":908}]},
 "mark": {"type": "rule", "color": "#9e9e9e", "strokeWidth": 2, "strokeDash": [7,4]},
 "encoding": {"x": {"field": "x", "type": "quantitative"}}},
{"data": {"values": [{"x":-175,"y":1.465},{"x":86,"y":1.4226},{"x":314,"y":1.475},{"x":497,"y":1.5134},{"x":659,"y":1.465},{"x":847,"y":1.4168}]},
 "mark": {"type": "point", "shape": "M-1,0L-0.1,-0.44L0.1,-0.44L1,0L0.1,0.44L-0.1,0.44Z", "filled": true, "color": "#4f81bd", "opacity": 1, "size": 400},
 "encoding": {"x": {"field": "x", "type": "quantitative"}, "y": {"field": "y", "type": "quantitative"}}},
{"data": {"values": [{"x":-156,"t":"-1"},{"x":126,"t":"+1"},{"x":352,"t":"+2"},{"x":524,"t":"+3"},{"x":696,"t":"+4"},{"x":868,"t":"+5"}]},
 "mark": {"type": "text", "color": "#ff0000", "font": "Liberation Sans", "fontWeight": "bold", "fontSize": 16, "baseline": "alphabetic"},
 "encoding": {"x": {"field": "x", "type": "quantitative"}, "y": {"datum": 1.5914}, "text": {"field": "t"}}},
{"data": {"values": [{"t": "Fly (MNase)"}]},
 "mark": {"type": "text", "font": "Lato", "fontSize": 22, "color": "#000000", "baseline": "alphabetic"},
 "encoding": {"x": {"datum": -116}, "y": {"datum": 1.8242}, "text": {"field": "t"}}},
{"data": {"values": [{"t": "C"}]},
 "mark": {"type": "text", "font": "Lato", "fontSize": 28, "color": "#000000", "align": "left", "baseline": "alphabetic"},
 "encoding": {"x": {"datum": -1277}, "y": {"datum": 1.8242}, "text": {"field": "t"}}}
]
},
{"width": 40, "height": 10, "data": {"values": []}, "mark": "point", "view": {"stroke": null}},
{
"width": 271, "height": 282,
"layer": [
{"data": {"name": "D"}, "transform": [{"fold": ["a","b","c","d","e"], "as": ["s","y"]}],
 "mark": {"type": "line", "interpolate": "monotone"},
 "encoding": {
  "x": {"field": "x", "type": "quantitative", "scale": {"domain": [-1100,1100], "nice": false, "zero": false}, "axis": {"values": [-1000,-500,0,500,1000], "format": "d", "title": "Distance to TSS, bp", "labelFontSize": 10.5, "titleFontSize": 12.5}},
  "y": {"field": "y", "type": "quantitative", "scale": {"domain": [0.7818,1.2197], "nice": false, "zero": false}, "axis": {"values": [0.8,0.9,1,1.1,1.2], "format": ".1f", "title": "Normalized nucleosome occupancy", "labelFontSize": 10.5, "titleFontSize": 12.5}},
  "color": {"field": "s", "type": "nominal", "scale": {"domain": ["a","b","c","d","e"], "range": ["#0000ff","#00ee00","#ffa500","#ff0000","#000000"]}, "legend": {"title": null, "orient": "bottom-right", "offset": 13, "labelFontSize": 9, "symbolSize": 100, "labelExpr": "datum.label == 'a' ? '1st 25%-ile' : datum.label == 'b' ? '2nd 25%-ile' : datum.label == 'c' ? '3rd 25%-ile' : datum.label == 'd' ? '4th 25%-ile' : 'all'"}},
  "strokeWidth": {"condition": {"test": "datum.s === 'e'", "value": 2.6}, "value": 1}
 }},
{"data": {"values": [{"x":-303},{"x":-81},{"x":-24},{"x":206},{"x":462},{"x":576},{"x":784},{"x":989}]},
 "mark": {"type": "rule", "color": "#9e9e9e", "strokeWidth": 2, "strokeDash": [7,4]},
 "encoding": {"x": {"field": "x", "type": "quantitative"}}},
{"data": {"values": [{"x":-222,"y":1.1933},{"x":89,"y":1.1829},{"x":333,"y":1.196},{"x":500,"y":1.2062},{"x":684,"y":1.1933},{"x":873,"y":1.1804}]},
 "mark": {"type": "point", "shape": "M-1,0L-0.1,-0.44L0.1,-0.44L1,0L0.1,0.44L-0.1,0.44Z", "filled": true, "color": "#4f81bd", "opacity": 1, "size": 400},
 "encoding": {"x": {"field": "x", "type": "quantitative"}, "y": {"field": "y", "type": "quantitative"}}},
{"data": {"values": [{"x":-195,"t":"-1"},{"x":133,"t":"+1"},{"x":314,"t":"+2"},{"x":495,"t":"+3"},{"x":662,"t":"+4"},{"x":814,"t":"+5"}]},
 "mark": {"type": "text", "color": "#ff0000", "font": "Liberation Sans", "fontWeight": "bold", "fontSize": 16, "baseline": "alphabetic"},
 "encoding": {"x": {"field": "x", "type": "quantitative"}, "y": {"datum": 1.2295}, "text": {"field": "t"}}},
{"data": {"values": [{"t": "Nematode (MNase)"}]},
 "mark": {"type": "text", "font": "Lato", "fontSize": 22, "color": "#000000", "baseline": "alphabetic"},
 "encoding": {"x": {"datum": 23}, "y": {"datum": 1.2876}, "text": {"field": "t"}}},
{"data": {"values": [{"t": "D"}]},
 "mark": {"type": "text", "font": "Lato", "fontSize": 28, "color": "#000000", "align": "left", "baseline": "alphabetic"},
 "encoding": {"x": {"datum": -1344}, "y": {"datum": 1.2838}, "text": {"field": "t"}}}
]
}
],
"spacing": 0, "bounds": "flush",
"resolve": {"scale": {"color": "independent"}, "legend": {"color": "independent"}}
},
{
"hconcat": [
{"width": 81, "height": 10, "data": {"values": []}, "mark": "point", "view": {"stroke": null}},
{
"width": 301, "height": 312,
"layer": [
{"data": {"name": "E"}, "transform": [{"fold": ["a","b","c","d","e"], "as": ["s","y"]}],
 "mark": {"type": "line", "interpolate": "monotone"},
 "encoding": {
  "x": {"field": "x", "type": "quantitative", "scale": {"domain": [-1100,1100], "nice": false, "zero": false}, "axis": {"values": [-1000,-500,0,500,1000], "format": "d", "title": "Distance to TSS, bp", "labelFontSize": 12, "titleFontSize": 14, "labelPadding": 1, "titlePadding": 1}},
  "y": {"field": "y", "type": "quantitative", "scale": {"domain": [0.6771,1.2259], "nice": false, "zero": false}, "axis": {"values": [0.7,0.8,0.9,1,1.1,1.2], "format": ".1f", "title": "Normalized nucleosome occupancy", "labelFontSize": 12, "titleFontSize": 14}},
  "color": {"field": "s", "type": "nominal", "scale": {"domain": ["a","b","c","d","e"], "range": ["#0000ff","#00ee00","#ffa500","#ff0000","#000000"]}, "legend": {"title": null, "orient": "bottom-right", "offset": 15, "labelFontSize": 10, "symbolSize": 121, "labelExpr": "datum.label == 'a' ? '1st 25%-ile' : datum.label == 'b' ? '2nd 25%-ile' : datum.label == 'c' ? '3rd 25%-ile' : datum.label == 'd' ? '4th 25%-ile' : 'all'"}},
  "strokeWidth": {"condition": {"test": "datum.s === 'e'", "value": 2.6}, "value": 1}
 }},
{"data": {"values": [{"x":-285},{"x":-163},{"x":17},{"x":224},{"x":415},{"x":617},{"x":810},{"x":1000}]},
 "mark": {"type": "rule", "color": "#9e9e9e", "strokeWidth": 2, "strokeDash": [7,4]},
 "encoding": {"x": {"field": "x", "type": "quantitative"}}},
{"data": {"values": [{"x":-227,"y":1.1907},{"x":115,"y":1.1778},{"x":312,"y":1.1937},{"x":505,"y":1.2123},{"x":702,"y":1.1912},{"x":895,"y":1.1778}]},
 "mark": {"type": "point", "shape": "M-1,0L-0.1,-0.44L0.1,-0.44L1,0L0.1,0.44L-0.1,0.44Z", "filled": true, "color": "#4f81bd", "opacity": 1, "size": 400},
 "encoding": {"x": {"field": "x", "type": "quantitative"}, "y": {"field": "y", "type": "quantitative"}}},
{"data": {"values": [{"x":-207,"t":"-1"},{"x":146,"t":"+1"},{"x":351,"t":"+2"},{"x":522,"t":"+3"},{"x":715,"t":"+4"},{"x":895,"t":"+5"}]},
 "mark": {"type": "text", "color": "#ff0000", "font": "Liberation Sans", "fontWeight": "bold", "fontSize": 16, "baseline": "alphabetic"},
 "encoding": {"x": {"field": "x", "type": "quantitative"}, "y": {"datum": 1.2277}, "text": {"field": "t"}}},
{"data": {"values": [{"t": "Mouse (chemical)"}]},
 "mark": {"type": "text", "font": "Lato", "fontSize": 22, "color": "#000000", "baseline": "alphabetic"},
 "encoding": {"x": {"datum": 85}, "y": {"datum": 1.298}, "text": {"field": "t"}}},
{"data": {"values": [{"t": "E"}]},
 "mark": {"type": "text", "font": "Lato", "fontSize": 28, "color": "#000000", "align": "left", "baseline": "alphabetic"},
 "encoding": {"x": {"datum": -1402}, "y": {"datum": 1.2628}, "text": {"field": "t"}}}
]
},
{"width": 100, "height": 10, "data": {"values": []}, "mark": "point", "view": {"stroke": null}},
{
"width": 300, "height": 312,
"layer": [
{"data": {"name": "F"}, "transform": [{"fold": ["a","b","c","d","e"], "as": ["s","y"]}],
 "mark": {"type": "line", "interpolate": "monotone"},
 "encoding": {
  "x": {"field": "x", "type": "quantitative", "scale": {"domain": [-1100,1100], "nice": false, "zero": false}, "axis": {"values": [-1000,-500,0,500,1000], "format": "d", "title": "Distance to TSS, bp", "labelFontSize": 12, "titleFontSize": 14, "labelPadding": 1, "titlePadding": 1}},
  "y": {"field": "y", "type": "quantitative", "scale": {"domain": [-0.0741,1.5778], "nice": false, "zero": false}, "axis": {"values": [0,0.5,1,1.5], "format": ".1f", "title": "Normalized nucleosome occupancy", "labelFontSize": 12, "titleFontSize": 14}},
  "color": {"field": "s", "type": "nominal", "scale": {"domain": ["a","b","c","d","e"], "range": ["#0000ff","#00ee00","#ffa500","#ff0000","#000000"]}, "legend": {"title": null, "orient": "bottom-right", "offset": 16, "labelFontSize": 10, "symbolSize": 121, "labelExpr": "datum.label == 'a' ? '1st 25%-ile' : datum.label == 'b' ? '2nd 25%-ile' : datum.label == 'c' ? '3rd 25%-ile' : datum.label == 'd' ? '4th 25%-ile' : 'all'"}},
  "strokeWidth": {"condition": {"test": "datum.s === 'e'", "value": 2.6}, "value": 1}
 }},
{"data": {"values": [{"x":-302},{"x":-204},{"x":-16},{"x":253},{"x":412},{"x":613},{"x":787},{"x":1000}]},
 "mark": {"type": "rule", "color": "#9e9e9e", "strokeWidth": 2, "strokeDash": [7,4]},
 "encoding": {"x": {"field": "x", "type": "quantitative"}}},
{"data": {"values": [{"x":-261,"y":1.4682},{"x":124,"y":1.4333},{"x":327,"y":1.4772},{"x":523,"y":1.5339},{"x":711,"y":1.5424},{"x":897,"y":1.5159}]},
 "mark": {"type": "point", "shape": "M-1,0L-0.1,-0.44L0.1,-0.44L1,0L0.1,0.44L-0.1,0.44Z", "filled": true, "color": "#4f81bd", "opacity": 1, "size": 400},
 "encoding": {"x": {"field": "x", "type": "quantitative"}, "y": {"field": "y", "type": "quantitative"}}},
{"data": {"values": [{"x":-244,"t":"-1"},{"x":121,"t":"+1"},{"x":334,"t":"+2"},{"x":540,"t":"+3"},{"x":728,"t":"+4"},{"x":909,"t":"+5"}]},
 "mark": {"type": "text", "color": "#ff0000", "font": "Liberation Sans", "fontWeight": "bold", "fontSize": 16, "baseline": "alphabetic"},
 "encoding": {"x": {"field": "x", "type": "quantitative"}, "y": {"datum": 1.5831}, "text": {"field": "t"}}},
{"data": {"values": [{"t": "Mouse (MNase)"}]},
 "mark": {"type": "text", "font": "Lato", "fontSize": 22, "color": "#000000", "baseline": "alphabetic"},
 "encoding": {"x": {"datum": -10}, "y": {"datum": 1.7912}, "text": {"field": "t"}}},
{"data": {"values": [{"t": "F"}]},
 "mark": {"type": "text", "font": "Lato", "fontSize": 28, "color": "#000000", "align": "left", "baseline": "alphabetic"},
 "encoding": {"x": {"datum": -1398}, "y": {"datum": 1.689}, "text": {"field": "t"}}}
]
},
{"width": 123, "height": 10, "data": {"values": []}, "mark": "point", "view": {"stroke": null}},
{
"width": 296, "height": 309,
"layer": [
{"data": {"name": "G"}, "transform": [{"fold": ["a","b","c","d","e"], "as": ["s","y"]}],
 "mark": {"type": "line", "interpolate": "monotone"},
 "encoding": {
  "x": {"field": "x", "type": "quantitative", "scale": {"domain": [-1100,1100], "nice": false, "zero": false}, "axis": {"values": [-1000,-500,0,500,1000], "format": "d", "title": "Distance to TSS, bp", "labelFontSize": 12, "titleFontSize": 14, "labelPadding": 1, "titlePadding": 1}},
  "y": {"field": "y", "type": "quantitative", "scale": {"domain": [0.1913,1.5723], "nice": false, "zero": false}, "axis": {"values": [0.4,0.8,1.2], "format": ".1f", "title": "Normalized nucleosome occupancy", "labelFontSize": 12, "titleFontSize": 14}},
  "color": {"field": "s", "type": "nominal", "scale": {"domain": ["a","b","c","d","e"], "range": ["#0000ff","#00ee00","#ffa500","#ff0000","#000000"]}, "legend": {"title": null, "orient": "bottom-right", "offset": 16, "labelFontSize": 10, "symbolSize": 121, "labelExpr": "datum.label == 'a' ? '1st 25%-ile' : datum.label == 'b' ? '2nd 25%-ile' : datum.label == 'c' ? '3rd 25%-ile' : datum.label == 'd' ? '4th 25%-ile' : 'all'"}},
  "strokeWidth": {"condition": {"test": "datum.s === 'e'", "value": 2.6}, "value": 1}
 }},
{"data": {"values": [{"x":-314},{"x":-148},{"x":71},{"x":239},{"x":412},{"x":578},{"x":747},{"x":920}]},
 "mark": {"type": "rule", "color": "#9e9e9e", "strokeWidth": 2, "strokeDash": [7,4]},
 "encoding": {"x": {"field": "x", "type": "quantitative"}}},
{"data": {"values": [{"x":-197,"y":1.4905},{"x":157,"y":1.4574},{"x":363,"y":1.495},{"x":529,"y":1.5423},{"x":715,"y":1.5499},{"x":871,"y":1.5289}]},
 "mark": {"type": "point", "shape": "M-1,0L-0.1,-0.44L0.1,-0.44L1,0L0.1,0.44L-0.1,0.44Z", "filled": true, "color": "#4f81bd", "opacity": 1, "size": 400},
 "encoding": {"x": {"field": "x", "type": "quantitative"}, "y": {"field": "y", "type": "quantitative"}}},
{"data": {"values": [{"x":-217,"t":"-1"},{"x":157,"t":"+1"},{"x":375,"t":"+2"},{"x":546,"t":"+3"},{"x":727,"t":"+4"},{"x":888,"t":"+5"}]},
 "mark": {"type": "text", "color": "#ff0000", "font": "Liberation Sans", "fontWeight": "bold", "fontSize": 16, "baseline": "alphabetic"},
 "encoding": {"x": {"field": "x", "type": "quantitative"}, "y": {"datum": 1.5844}, "text": {"field": "t"}}},
{"data": {"values": [{"t": "Human (MNase)"}]},
 "mark": {"type": "text", "font": "Lato", "fontSize": 22, "color": "#000000", "baseline": "alphabetic"},
 "encoding": {"x": {"datum": -164}, "y": {"datum": 1.7479}, "text": {"field": "t"}}},
{"data": {"values": [{"t": "G"}]},
 "mark": {"type": "text", "font": "Lato", "fontSize": 28, "color": "#000000", "align": "left", "baseline": "alphabetic"},
 "encoding": {"x": {"datum": -1576}, "y": {"datum": 1.6662}, "text": {"field": "t"}}}
]
}
],
"spacing": 0, "bounds": "flush",
"resolve": {"scale": {"color": "independent"}, "legend": {"color": "independent"}}
}
]
}
